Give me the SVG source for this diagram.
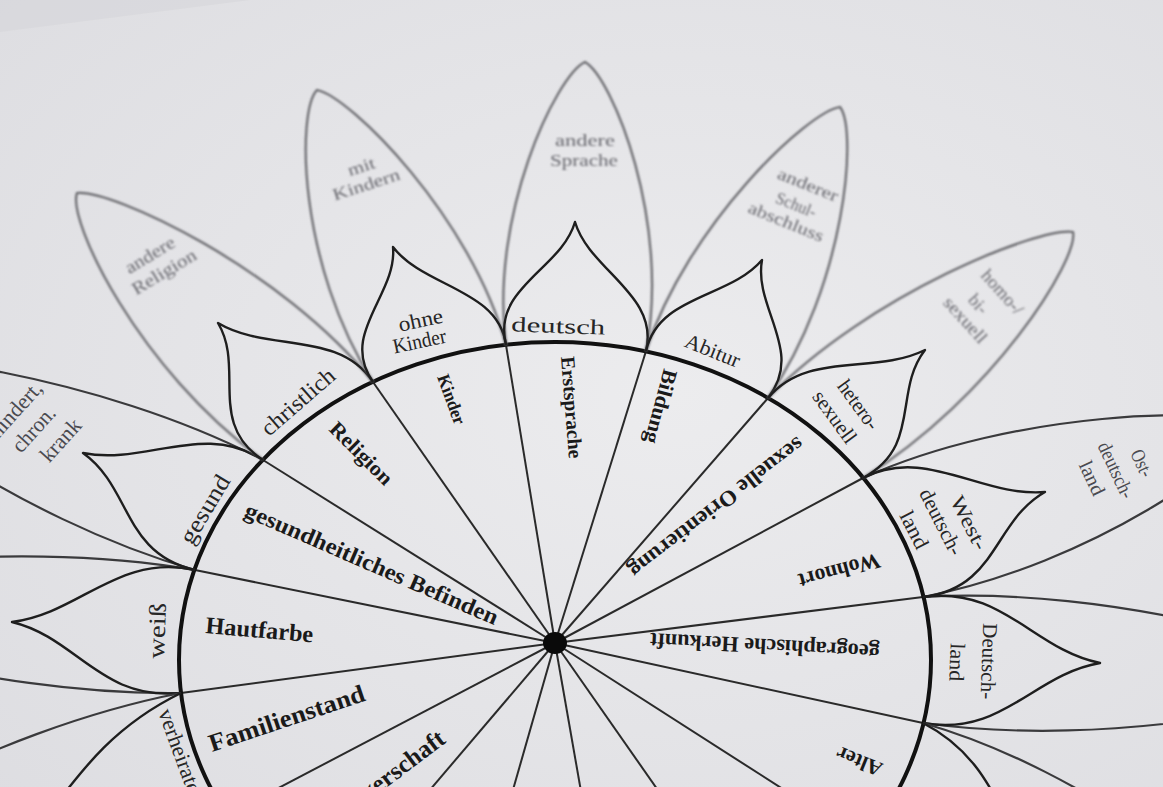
<svg xmlns="http://www.w3.org/2000/svg" width="1163" height="787" viewBox="0 0 1163 787">
<defs>
<radialGradient id="paper" cx="0.58" cy="0.5" r="0.8">
<stop offset="0" stop-color="#ececee"/>
<stop offset="1" stop-color="#dddde1"/>
</radialGradient>
<filter id="soft" x="-10%" y="-10%" width="120%" height="120%"><feGaussianBlur stdDeviation="0.9"/></filter>
<style>
.inner{fill:none;stroke:#1e1e1e;stroke-width:2.4;stroke-linejoin:round}
.outer{fill:none;stroke:#3a3a3c;stroke-width:2.2}
.far{stroke:#66666b}
.spoke{stroke:#2a2a2a;stroke-width:2}
.cat{font-family:"Liberation Serif","DejaVu Serif",serif;font-weight:bold;fill:#1a1a1a}
.pin{font-family:"Liberation Serif","DejaVu Serif",serif;fill:#262626}
.pout{font-family:"Liberation Serif","DejaVu Serif",serif;fill:#4a4a50}
.pfar{font-family:"Liberation Serif","DejaVu Serif",serif;fill:#68686e}
</style>
</defs>
<g id="background">
<rect width="1163" height="787" fill="url(#paper)"/>
<polygon points="0,0 250,0 0,32" fill="#d6d6da" opacity="0.6"/>
</g>

<g id="connectors">
<line class="spoke" x1="555" y1="643" x2="181" y2="693"/>
<line class="spoke" x1="555" y1="643" x2="195" y2="570"/>
<line class="spoke" x1="555" y1="643" x2="263" y2="460"/>
<line class="spoke" x1="555" y1="643" x2="373" y2="382"/>
<line class="spoke" x1="555" y1="643" x2="506" y2="345"/>
<line class="spoke" x1="555" y1="643" x2="646" y2="351"/>
<line class="spoke" x1="555" y1="643" x2="768" y2="398"/>
<line class="spoke" x1="555" y1="643" x2="863" y2="478"/>
<line class="spoke" x1="555" y1="643" x2="923" y2="597"/>
<line class="spoke" x1="555" y1="643" x2="923" y2="723"/>
<line class="spoke" x1="555" y1="643" x2="864" y2="841"/>
<line class="spoke" x1="555" y1="643" x2="755" y2="929"/>
<line class="spoke" x1="555" y1="643" x2="613" y2="974"/>
<line class="spoke" x1="555" y1="643" x2="462" y2="968"/>
<line class="spoke" x1="555" y1="643" x2="326" y2="912"/>
<line class="spoke" x1="555" y1="643" x2="227" y2="815"/>
</g>

<g id="ring">
<ellipse cx="555" cy="660" rx="376" ry="318" fill="none" stroke="#111" stroke-width="4"/>
</g>

<g id="seg-hautfarbe">
<path class="outer" d="M181,693 C-22.7,696 -240.4,623.3 -260,597 C-234.8,574.1 -4.5,536 195,570"/>
<path class="inner" d="M181,693 C100.4,701 77.5,637.9 12,622 C80.3,613.3 117.2,553.4 195,570"/>
<text class="cat" font-size="24" textLength="108" lengthAdjust="spacingAndGlyphs" transform="translate(205,633) rotate(5)">Hautfarbe</text>
<text class="pin" font-size="24" textLength="56" lengthAdjust="spacingAndGlyphs" transform="translate(164,659) rotate(-88)">weiß</text>
</g>

<g id="seg-gesundheit">
<path class="outer" d="M195,570 C9.7,516.7 -154.2,389.7 -160,360 C-127,345.7 98.1,373.7 263,460"/>
<path class="inner" d="M195,570 C122.5,553.1 131.7,487.6 83,453 C145.3,465.6 204.1,421.1 263,460"/>
<text class="cat" font-size="23" textLength="274" lengthAdjust="spacingAndGlyphs" transform="translate(243,516) rotate(23.5)">gesundheitliches Befinden</text>
<text class="pin" font-size="24" textLength="76" lengthAdjust="spacingAndGlyphs" transform="translate(192,546) rotate(-59)">gesund</text>
<text class="pout" font-size="22" text-anchor="middle" transform="translate(14,422) rotate(-48)">behindert,</text>
<text class="pout" font-size="22" text-anchor="middle" textLength="54" lengthAdjust="spacingAndGlyphs" transform="translate(39,434) rotate(-48)">chron.</text>
<text class="pout" font-size="22" text-anchor="middle" textLength="50" lengthAdjust="spacingAndGlyphs" transform="translate(66,445) rotate(-48)">krank</text>
</g>

<g id="seg-religion">
<path class="outer far" filter="url(#soft)" d="M263,460 C138,369.1 67,220 77,193 C111,188.8 281,267.7 373,382"/>
<path class="inner" d="M263,460 C207,423.7 245,368 218,323 C267,352.4 339,330.1 373,382"/>
<text class="cat" font-size="21" textLength="80" lengthAdjust="spacingAndGlyphs" transform="translate(328,430) rotate(45)">Religion</text>
<text class="pin" font-size="23" textLength="90" lengthAdjust="spacingAndGlyphs" transform="translate(269,437) rotate(-41)">christlich</text>
<g filter="url(#soft)">
<text class="pfar" font-size="18" text-anchor="middle" textLength="55" lengthAdjust="spacingAndGlyphs" transform="translate(153,260) rotate(-31)">andere</text>
<text class="pfar" font-size="18" text-anchor="middle" textLength="72" lengthAdjust="spacingAndGlyphs" transform="translate(167,277) rotate(-31)">Religion</text>
</g>
</g>

<g id="seg-kinder">
<path class="outer far" filter="url(#soft)" d="M373,382 C297.9,264.5 296.5,111.1 317,90 C349.7,96.3 470.9,216.3 506,345"/>
<path class="inner" d="M373,382 C338.8,333.3 397.4,295 393,247 C424,287.6 498.4,288.9 506,345"/>
<text class="cat" font-size="18" textLength="52" lengthAdjust="spacingAndGlyphs" transform="translate(437,377) rotate(70)">Kinder</text>
<text class="pin" font-size="21" text-anchor="middle" textLength="45" lengthAdjust="spacingAndGlyphs" transform="translate(422,327) rotate(-12)">ohne</text>
<text class="pin" font-size="21" text-anchor="middle" textLength="54" lengthAdjust="spacingAndGlyphs" transform="translate(421,348) rotate(-12)">Kinder</text>
<g filter="url(#soft)">
<text class="pfar" font-size="17" text-anchor="middle" textLength="28" lengthAdjust="spacingAndGlyphs" transform="translate(363,172) rotate(-18)">mit</text>
<text class="pfar" font-size="17" text-anchor="middle" textLength="70" lengthAdjust="spacingAndGlyphs" transform="translate(368,190) rotate(-18)">Kindern</text>
</g>
</g>

<g id="seg-erstsprache">
<path class="outer far" filter="url(#soft)" d="M506,345 C489,215.4 556.6,75.1 585,62 C612.6,77.5 671,223.2 646,351"/>
<path class="inner" d="M506,345 C491.6,287.7 561.4,269.3 575,222 C589.4,270.5 659.6,294.9 646,351"/>
<text class="cat" font-size="20" textLength="102" lengthAdjust="spacingAndGlyphs" transform="translate(561,357) rotate(85.5)">Erstsprache</text>
<text class="pin" font-size="21" text-anchor="middle" textLength="94" lengthAdjust="spacingAndGlyphs" transform="translate(558,333) rotate(2)">deutsch</text>
<g filter="url(#soft)">
<text class="pfar" font-size="17" text-anchor="middle" textLength="60" lengthAdjust="spacingAndGlyphs" transform="translate(585,146)">andere</text>
<text class="pfar" font-size="17" text-anchor="middle" textLength="68" lengthAdjust="spacingAndGlyphs" transform="translate(584,166)">Sprache</text>
</g>
</g>

<g id="seg-bildung">
<path class="outer far" filter="url(#soft)" d="M646,351 C687.6,223.5 809,111 840,107 C857.8,129.8 846.2,284.7 768,398"/>
<path class="inner" d="M646,351 C658.6,294.8 728.9,298.8 762,260 C753.3,308.2 805,351.2 768,398"/>
<text class="cat" font-size="21" textLength="76" lengthAdjust="spacingAndGlyphs" transform="translate(664,368) rotate(105)">Bildung</text>
<text class="pin" font-size="21" text-anchor="middle" textLength="58" lengthAdjust="spacingAndGlyphs" transform="translate(710,357) rotate(22)">Abitur</text>
<g filter="url(#soft)">
<text class="pfar" font-size="17" text-anchor="middle" textLength="64" lengthAdjust="spacingAndGlyphs" transform="translate(806,190) rotate(22)">anderer</text>
<text class="pfar" font-size="17" text-anchor="middle" textLength="42" lengthAdjust="spacingAndGlyphs" transform="translate(794,210) rotate(22)">Schul-</text>
<text class="pfar" font-size="17" text-anchor="middle" textLength="80" lengthAdjust="spacingAndGlyphs" transform="translate(784,227) rotate(22)">abschluss</text>
</g>
</g>

<g id="seg-sexuelle-orientierung">
<path class="outer far" filter="url(#soft)" d="M768,398 C869.6,293.3 1041.1,226.3 1073,232 C1079.1,258.3 993.2,397.3 863,478"/>
<path class="inner" d="M768,398 C807.8,350.4 873.9,375.4 925,350 C892.9,391.4 921.8,446.4 863,478"/>
<text class="cat" font-size="22" textLength="215" lengthAdjust="spacingAndGlyphs" transform="translate(797,436) rotate(142.3)">sexuelle Orientierung</text>
<text class="pin" font-size="21" text-anchor="middle" textLength="56" lengthAdjust="spacingAndGlyphs" transform="translate(853,409) rotate(54)">hetero-</text>
<text class="pin" font-size="21" text-anchor="middle" textLength="60" lengthAdjust="spacingAndGlyphs" transform="translate(829,421) rotate(54)">sexuell</text>
<g filter="url(#soft)">
<text class="pfar" font-size="18" text-anchor="middle" textLength="54" lengthAdjust="spacingAndGlyphs" transform="translate(998,296) rotate(48)">homo-/</text>
<text class="pfar" font-size="18" text-anchor="middle" textLength="20" lengthAdjust="spacingAndGlyphs" transform="translate(974,308) rotate(48)">bi-</text>
<text class="pfar" font-size="18" text-anchor="middle" textLength="56" lengthAdjust="spacingAndGlyphs" transform="translate(961,324) rotate(48)">sexuell</text>
</g>
</g>

<g id="seg-wohnort">
<path class="outer" d="M863,478 C1014.7,409.5 1220.2,406.8 1250,425 C1244.2,454.4 1092.7,564.3 923,597"/>
<path class="inner" d="M863,478 C925.4,445.6 981.2,497.4 1045,492 C993.2,521.2 997.4,588.4 923,597"/>
<text class="cat" font-size="22" textLength="84" lengthAdjust="spacingAndGlyphs" transform="translate(878,553) rotate(165)">Wohnort</text>
<text class="pin" font-size="21" text-anchor="middle" textLength="58" lengthAdjust="spacingAndGlyphs" transform="translate(963,526) rotate(63)">West-</text>
<text class="pin" font-size="21" text-anchor="middle" textLength="72" lengthAdjust="spacingAndGlyphs" transform="translate(935,525) rotate(63)">deutsch-</text>
<text class="pin" font-size="21" text-anchor="middle" textLength="40" lengthAdjust="spacingAndGlyphs" transform="translate(908,533) rotate(63)">land</text>
<text class="pout" font-size="20" text-anchor="middle" textLength="28" lengthAdjust="spacingAndGlyphs" transform="translate(1136,466) rotate(65)">Ost-</text>
<text class="pout" font-size="20" text-anchor="middle" textLength="60" lengthAdjust="spacingAndGlyphs" transform="translate(1110,473) rotate(65)">deutsch-</text>
<text class="pout" font-size="20" text-anchor="middle" textLength="36" lengthAdjust="spacingAndGlyphs" transform="translate(1086,481) rotate(65)">land</text>
</g>

<g id="seg-herkunft">
<path class="outer" d="M923,597 C1115.2,585.8 1328.7,651 1350,677 C1328.7,701.4 1115.2,749.6 923,723"/>
<path class="inner" d="M923,597 C1002.7,585.8 1032.7,649.3 1100,663 C1032.7,674.5 1002.7,737 923,723"/>
<text class="cat" font-size="22" textLength="230" lengthAdjust="spacingAndGlyphs" transform="translate(880,645) rotate(183)">geographische Herkunft</text>
<text class="pin" font-size="21" text-anchor="middle" textLength="76" lengthAdjust="spacingAndGlyphs" transform="translate(982,661) rotate(92)">Deutsch-</text>
<text class="pin" font-size="21" text-anchor="middle" textLength="38" lengthAdjust="spacingAndGlyphs" transform="translate(950,662) rotate(92)">land</text>
</g>

<g id="seg-alter">
<path class="outer" d="M923,723 C1092.3,771.9 1244,899 1250,930 C1220.4,946.2 1015.5,925.3 864,841"/>
<path class="inner" d="M923,723 C1003.8,764.3 1002.6,843.4 1060,900 C990.8,867 933,905.9 864,841"/>
<text class="cat" font-size="21" textLength="48" lengthAdjust="spacingAndGlyphs" transform="translate(884,764) rotate(202)">Alter</text>
</g>

<g id="seg-staatsbuergerschaft">
<text class="cat" font-size="25" text-anchor="end" transform="translate(447,742) rotate(-37)">Staatsbürgerschaft</text>
</g>

<g id="seg-familienstand">
<path class="outer" d="M227,815 C43.1,890 -189.6,898.1 -220,880 C-208,849.3 -16.7,731.4 181,693"/>
<path class="inner" d="M227,815 C126.3,892.9 63.5,856.7 -30,900 C54.3,832.3 71.1,746.5 181,693"/>
<text class="cat" font-size="25" textLength="163" lengthAdjust="spacingAndGlyphs" transform="translate(212,752) rotate(-18.5)">Familienstand</text>
<text class="pin" font-size="22" transform="translate(158,712) rotate(70)">verheiratet</text>
</g>

<g id="hub">
<ellipse cx="555" cy="643" rx="12" ry="11" fill="#0a0a0a"/>
</g>
</svg>
